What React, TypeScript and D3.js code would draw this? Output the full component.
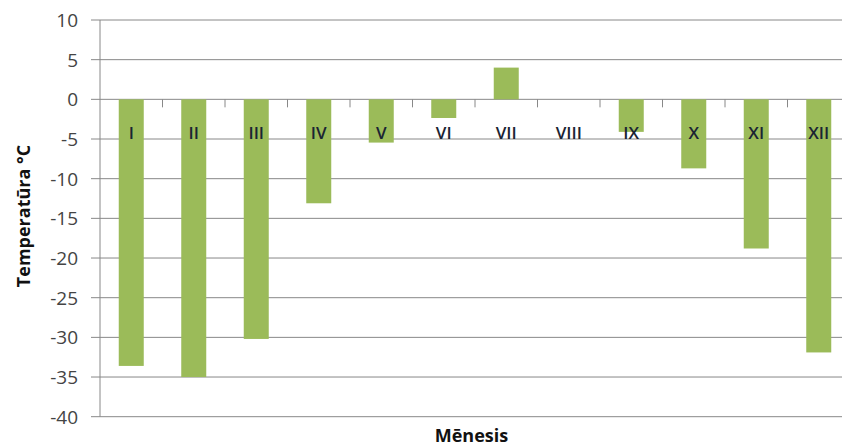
import React from "react";
import * as d3 from "d3";

// Monthly temperature minimums, months in Roman numerals
const months = ["I", "II", "III", "IV", "V", "VI", "VII", "VIII", "IX", "X", "XI", "XII"];
const temps = [-33.6, -35.0, -30.2, -13.1, -5.45, -2.35, 4.0, 0, -4.1, -8.7, -18.8, -31.9];
const yTicks = [10, 5, 0, -5, -10, -15, -20, -25, -30, -35, -40];

const W = 842;
const H = 448;
const left = 100;
const right = 850;
const top = 20;
const bottom = 416.7;

const font = "'Open Sans', Lato, 'DejaVu Sans', sans-serif";

export default function App() {
  const x = d3.scaleBand<string>().domain(months).range([left, right]).padding(0);
  const y = d3.scaleLinear().domain([-40, 10]).range([bottom, top]);
  const bw = x.bandwidth() * 0.4;
  const y0 = y(0);

  return (
    <svg
      width={W}
      height={H}
      style={{ position: "absolute", left: 0, top: 0, background: "#fff" }}
      fontFamily={font}
    >
      {/* horizontal gridlines with left tick stubs */}
      {yTicks.map((t) => (
        <g key={t}>
          <line x1={left - 9} x2={right} y1={y(t)} y2={y(t)} stroke="#888" strokeWidth={1} />
          <text
            x={78}
            y={y(t)}
            dy="0.36em"
            textAnchor="end"
            fontSize={19}
            fill="#444"
          >
            {t}
          </text>
        </g>
      ))}
      {/* vertical axis line */}
      <line x1={left} x2={left} y1={top} y2={bottom} stroke="#888" strokeWidth={1} />

      {/* bars */}
      {months.map((m, i) => {
        const v = temps[i];
        const cx = (x(m) as number) + x.bandwidth() / 2;
        return (
          <rect
            key={m}
            x={cx - bw / 2}
            y={Math.min(y(v), y0)}
            width={bw}
            height={Math.abs(y(v) - y0)}
            fill="#9BBB59"
          />
        );
      })}

      {/* category tick marks along the zero line */}
      {months.slice(1).map((m) => (
        <line
          key={m}
          x1={x(m) as number}
          x2={x(m) as number}
          y1={y0}
          y2={y0 + 8}
          stroke="#888"
          strokeWidth={1}
        />
      ))}

      {/* category labels */}
      {months.map((m) => (
        <text
          key={m}
          x={(x(m) as number) + x.bandwidth() / 2}
          y={138.5}
          textAnchor="middle"
          fontSize={17}
          fontWeight={600}
          fill="#1a2433"
        >
          {m}
        </text>
      ))}

      {/* axis titles */}
      <text
        transform="translate(24,216) rotate(-90)"
        textAnchor="middle"
        dy="0.36em"
        fontSize={18}
        fontWeight="bold"
        fill="#111"
      >
        Temperatūra °C
      </text>
      <text x={471.5} y={442} textAnchor="middle" fontSize={18} fontWeight="bold" fill="#111">
        Mēnesis
      </text>
    </svg>
  );
}
